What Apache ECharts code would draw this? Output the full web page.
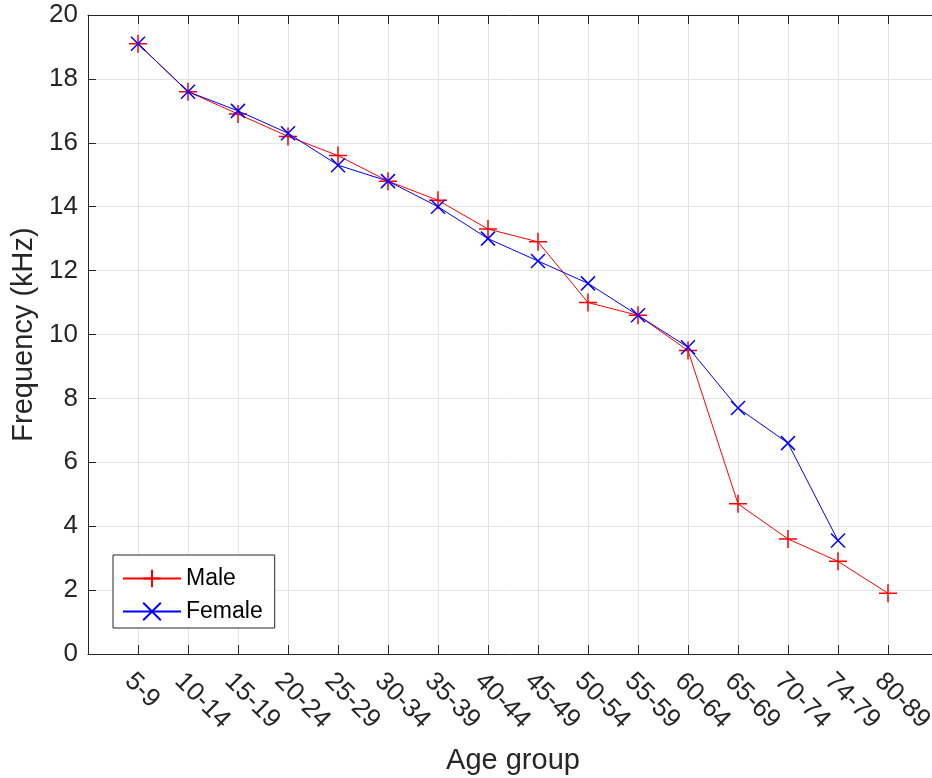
<!DOCTYPE html>
<html>
<head>
<meta charset="utf-8">
<script src="https://cdn.jsdelivr.net/npm/echarts@6/dist/echarts.min.js"></script>
<style>
html,body{margin:0;padding:0;background:#fff;}
#chart{width:932px;height:778px;}
</style>
</head>
<body>
<div id="chart"></div>
<script>
var ageGroups = ['5-9','10-14','15-19','20-24','25-29','30-34','35-39','40-44','45-49','50-54','55-59','60-64','65-69','70-74','74-79','80-89'];
var maleValues = [19.1, 17.6, 16.9, 16.2, 15.6, 14.8, 14.2, 13.3, 12.9, 11.0, 10.6, 9.5, 4.7, 3.6, 2.9, 1.9];
var femaleValues = [19.1, 17.6, 17.0, 16.3, 15.3, 14.8, 14.0, 13.0, 12.3, 11.6, 10.6, 9.6, 7.7, 6.6, 3.55];
var yTicks = [0, 2, 4, 6, 8, 10, 12, 14, 16, 18, 20];

var FONT = '"Liberation Sans", Arial, Helvetica, sans-serif';
var AX = '#262626';

function toPoints(arr){ return arr.map(function(v,i){ return [i+1, v]; }); }

var chart = echarts.init(document.getElementById('chart'), null, {renderer:'canvas'});
chart.setOption({
  animation: false,
  backgroundColor: '#fff',
  textStyle: {fontFamily: FONT},
  grid: {left: 88, top: 15, width: 850, height: 639, containLabel: false, outerBoundsMode: 'none'},
  xAxis: [{
    type: 'value', min: 0, max: ageGroups.length + 1, interval: 1,
    name: 'Age group', nameLocation: 'middle', nameGap: 92,
    nameTextStyle: {fontSize: 29, color: AX, fontFamily: FONT},
    axisLine: {show: true, lineStyle: {color: AX, width: 1}},
    axisTick: {show: true, inside: true, length: 9, lineStyle: {color: AX}},
    axisLabel: {
      show: true, rotate: -45, fontSize: 26, color: AX, fontFamily: FONT, margin: 14,
      verticalAlign: 'top',
      showMinLabel: false, showMaxLabel: false,
      formatter: function(v){ var i = Math.round(v) - 1; return (i >= 0 && i < ageGroups.length) ? ageGroups[i] : ''; }
    },
    splitLine: {show: true, lineStyle: {color: '#e3e3e3', width: 1}}
  }, {
    type: 'value', position: 'top', min: 0, max: ageGroups.length + 1, interval: 1,
    axisLine: {show: true, onZero: false, lineStyle: {color: AX, width: 1}},
    axisTick: {show: true, inside: true, length: 9, lineStyle: {color: AX}},
    axisLabel: {show: false},
    splitLine: {show: false}
  }],
  yAxis: [{
    type: 'value', min: yTicks[0], max: yTicks[yTicks.length-1], interval: 2,
    name: 'Frequency (kHz)', nameLocation: 'middle', nameGap: 48,
    nameTextStyle: {fontSize: 29, color: AX, fontFamily: FONT},
    axisLine: {show: true, lineStyle: {color: AX, width: 1}},
    axisTick: {show: true, inside: true, length: 8, lineStyle: {color: AX}},
    axisLabel: {fontSize: 26, color: AX, fontFamily: FONT, margin: 10},
    splitLine: {show: true, lineStyle: {color: '#e3e3e3', width: 1}}
  }],
  legend: {
    orient: 'vertical', left: 113, top: 555,
    itemWidth: 58, itemHeight: 22, itemGap: 10,
    padding: [12, 12, 5, 9],
    backgroundColor: '#fff', borderColor: AX, borderWidth: 1,
    textStyle: {fontSize: 23, color: '#000', fontFamily: FONT},
    data: ['Male', 'Female']
  },
  series: [{
    name: 'Male', type: 'line', data: toPoints(maleValues),
    symbol: 'path://M0,-1L0,1M-1,0L1,0', symbolSize: 18,
    lineStyle: {color: '#ff0000', width: 1},
    itemStyle: {color: '#ff0000', borderColor: '#ff0000', borderWidth: 1.5},
    z: 3
  }, {
    name: 'Female', type: 'line', data: toPoints(femaleValues),
    symbol: 'path://M-1,-1L1,1M-1,1L1,-1', symbolSize: 14,
    lineStyle: {color: '#0000ff', width: 1},
    itemStyle: {color: '#0000ff', borderColor: '#0000ff', borderWidth: 1.5},
    z: 4
  }]
});
</script>
</body>
</html>
